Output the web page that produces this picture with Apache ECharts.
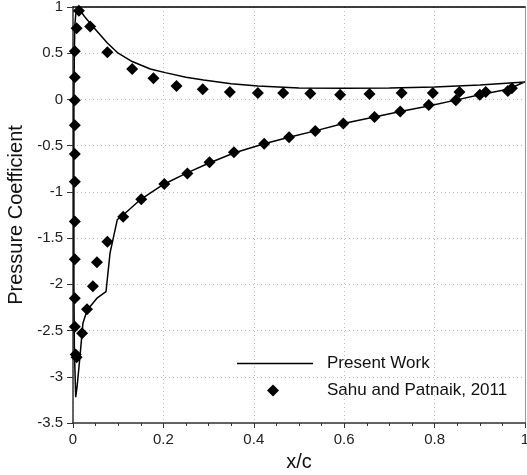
<!DOCTYPE html>
<html>
<head>
<meta charset="utf-8">
<script src="https://cdn.jsdelivr.net/npm/echarts@6/dist/echarts.min.js"></script>
<style>
  html, body { margin: 0; padding: 0; background: #fff; }
  #chart { width: 527px; height: 475px; }
</style>
</head>
<body>
<div id="chart"></div>
<script>
// Present Work: one closed curve, trailing edge -> stagnation -> leading edge -> trailing edge
const lineX = [1.0, 0.9, 0.8, 0.7, 0.6, 0.5, 0.409, 0.35, 0.289, 0.25, 0.204, 0.171, 0.131, 0.1, 0.076,
  0.042, 0.025, 0.012, 0.007, 0.004, 0.003, 0.002, 0.002, 0.002, 0.003, 0.006, 0.009, 0.016, 0.022,
  0.031, 0.053, 0.073, 0.082, 0.098, 0.111, 0.15, 0.2, 0.25, 0.3, 0.356, 0.423, 0.478, 0.536, 0.598,
  0.667, 0.724, 0.787, 0.844, 0.9, 0.962, 1.0];
const lineY = [0.19, 0.155, 0.135, 0.125, 0.12, 0.125, 0.145, 0.17, 0.21, 0.24, 0.29, 0.33, 0.41, 0.5, 0.61,
  0.8, 0.9, 0.99, 0.97, 0.8, 0.5, 0, -1, -2, -2.7, -3.22, -3.11, -2.75, -2.42,
  -2.28, -2.15, -2.08, -1.66, -1.3, -1.25, -1.08, -0.92, -0.8, -0.69, -0.58, -0.48, -0.41, -0.34, -0.26,
  -0.19, -0.13, -0.07, -0.01, 0.05, 0.11, 0.19];

// Sahu and Patnaik, 2011
const expX = [0.004, 0.004, 0.004, 0.004, 0.004, 0.004, 0.004, 0.004, 0.004, 0.004, 0.006, 0.008, 0.008, 0.013,
  0.038, 0.076, 0.131, 0.178, 0.229, 0.287, 0.347, 0.409, 0.465, 0.525, 0.591, 0.656, 0.727, 0.796, 0.855, 0.913, 0.971,
  0.02, 0.031, 0.044, 0.053, 0.076, 0.111, 0.151, 0.202, 0.253, 0.302, 0.356, 0.423, 0.478, 0.536, 0.598,
  0.667, 0.724, 0.787, 0.847, 0.9, 0.962];
const expY = [0.52, 0.24, -0.01, -0.28, -0.59, -0.89, -1.32, -1.73, -2.15, -2.46, -2.76, -2.79, 0.77, 0.96,
  0.79, 0.51, 0.33, 0.23, 0.145, 0.11, 0.08, 0.07, 0.07, 0.065, 0.05, 0.06, 0.07, 0.07, 0.08, 0.08, 0.12,
  -2.53, -2.27, -2.02, -1.76, -1.54, -1.27, -1.08, -0.916, -0.8, -0.68, -0.57, -0.48, -0.41, -0.34, -0.26,
  -0.19, -0.13, -0.06, -0.01, 0.05, 0.09];

const font = 'Liberation Sans, Arial, sans-serif';
// legend icons: thin bar / small diamond inside a 76x12 box (moveTo corners fix the box)
const lineIcon = 'path://M0,0M0,5.2L76,5.2L76,6.8L0,6.8ZM76,12';
const diamondIcon = 'path://M0,0M36,0L42,6L36,12L30,6ZM76,12';

const chart = echarts.init(document.getElementById('chart'));

chart.setOption({
  backgroundColor: '#fff',
  animation: false,
  grid: { left: 73, right: 2, top: 7, bottom: 52, outerBoundsMode: 'none' },
  legend: {
    orient: 'vertical',
    left: 237,
    top: 355,
    padding: 0,
    itemWidth: 76,
    itemHeight: 12,
    itemGap: 10,
    textStyle: { fontFamily: font, fontSize: 17, color: '#111', padding: [0, 0, 0, 9] },
    data: [
      { name: 'Present Work', icon: lineIcon },
      { name: 'Sahu and Patnaik, 2011', icon: diamondIcon }
    ]
  },
  xAxis: [
    {
      type: 'value',
      min: 0,
      max: 1,
      interval: 0.2,
      name: 'x/c',
      nameLocation: 'middle',
      nameGap: 29,
      nameTextStyle: { fontFamily: font, fontSize: 20, color: '#111' },
      axisLine: { onZero: false, lineStyle: { color: '#333', width: 1.5 } },
      axisTick: { length: 5, lineStyle: { color: '#333' } },
      minorTick: { show: true, splitNumber: 4, length: 3, lineStyle: { color: '#333' } },
      axisLabel: { fontFamily: font, fontSize: 15, color: '#222', margin: 9 },
      splitLine: { lineStyle: { color: '#bbb', type: [1, 3] } }
    },
    {
      type: 'value',
      position: 'top',
      min: 0,
      max: 1,
      axisLine: { show: true, onZero: false, lineStyle: { color: '#000', width: 1.5 } },
      axisTick: { show: false },
      axisLabel: { show: false },
      splitLine: { show: false }
    }
  ],
  yAxis: [
    {
      type: 'value',
      min: -3.5,
      max: 1,
      interval: 0.5,
      name: 'Pressure Coefficient',
      nameLocation: 'middle',
      nameGap: 37,
      nameTextStyle: { fontFamily: font, fontSize: 20, color: '#111' },
      axisLine: { show: true, onZero: false, lineStyle: { color: '#333', width: 1.5 } },
      axisTick: { show: true, length: 6, lineStyle: { color: '#333' } },
      axisLabel: { fontFamily: font, fontSize: 15, color: '#222', margin: 10 },
      splitLine: { lineStyle: { color: '#bbb', type: [1, 3] } }
    },
    {
      type: 'value',
      position: 'right',
      min: -3.5,
      max: 1,
      axisLine: { show: true, onZero: false, lineStyle: { color: '#999', width: 1 } },
      axisTick: { show: false },
      axisLabel: { show: false },
      splitLine: { show: false }
    }
  ],
  series: [
    {
      name: 'Present Work',
      type: 'line',
      data: lineX.map((x, i) => [x, lineY[i]]),
      symbol: 'none',
      color: '#000',
      lineStyle: { color: '#000', width: 1.5 },
      z: 3
    },
    {
      name: 'Sahu and Patnaik, 2011',
      type: 'scatter',
      data: expX.map((x, i) => [x, expY[i]]),
      symbol: 'diamond',
      symbolSize: 12,
      itemStyle: { color: '#000', opacity: 1 },
      z: 4
    }
  ]
});
</script>
</body>
</html>
